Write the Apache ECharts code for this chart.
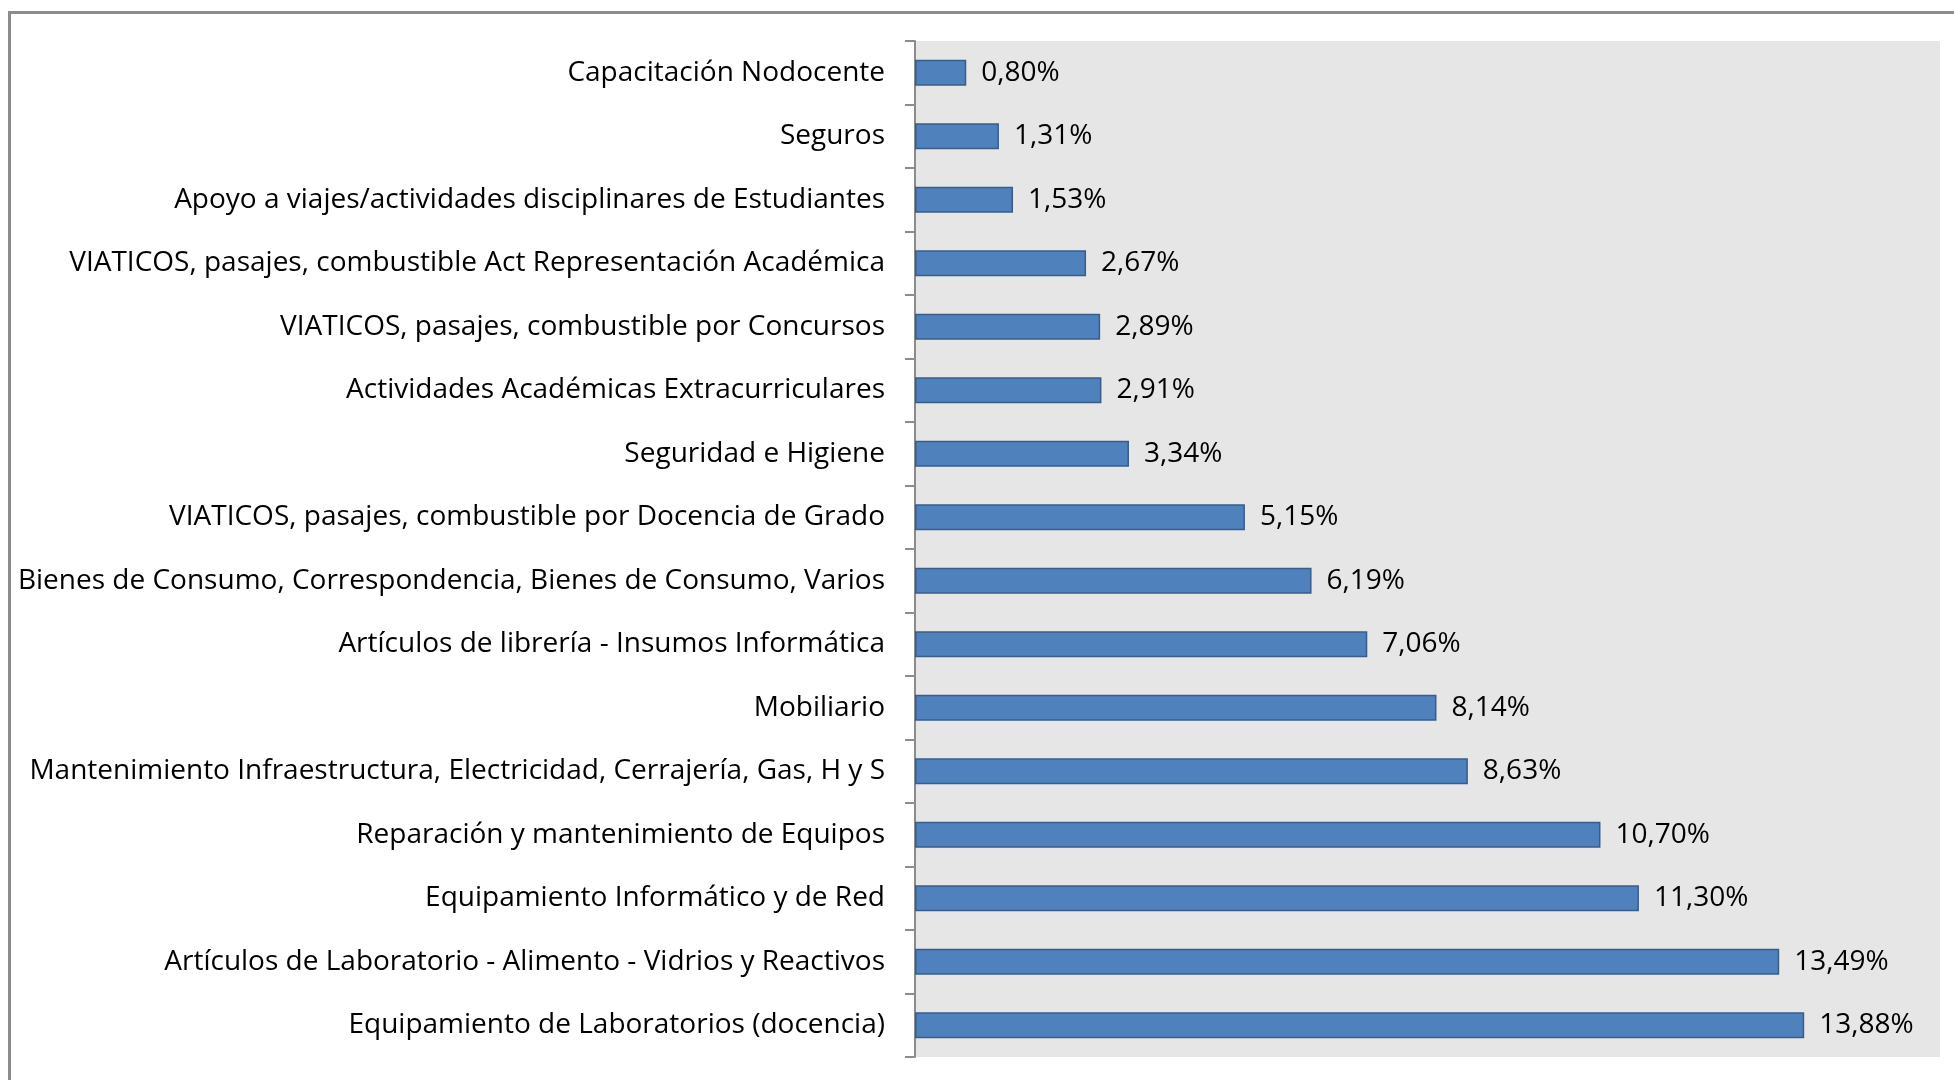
<!DOCTYPE html>
<html>
<head>
<meta charset="utf-8">
<script src="https://cdn.jsdelivr.net/npm/echarts@6/dist/echarts.min.js"></script>
<style>
  html, body { margin: 0; padding: 0; background: #fff; }
  #chart { width: 1954px; height: 1080px; }
  #frame { position: absolute; left: 8px; top: 11px; width: 1960px; height: 1090px;
           border-left: 3px solid #8c8c8c; border-top: 3px solid #8c8c8c; box-sizing: border-box; }
</style>
</head>
<body>
<div id="frame"></div>
<div id="chart" style="position:absolute;left:0;top:0;"></div>
<script>
// categorias de abajo hacia arriba (como las dibuja el eje)
var categorias = [
  'Equipamiento de Laboratorios (docencia)',
  'Artículos de Laboratorio - Alimento - Vidrios y Reactivos',
  'Equipamiento Informático y de Red',
  'Reparación y mantenimiento de Equipos',
  'Mantenimiento Infraestructura, Electricidad, Cerrajería, Gas, H y S',
  'Mobiliario',
  'Artículos de librería - Insumos Informática',
  'Bienes de Consumo, Correspondencia, Bienes de Consumo, Varios',
  'VIATICOS, pasajes, combustible por Docencia de Grado',
  'Seguridad e Higiene',
  'Actividades Académicas Extracurriculares',
  'VIATICOS, pasajes, combustible por Concursos',
  'VIATICOS, pasajes, combustible Act Representación Académica',
  'Apoyo a viajes/actividades disciplinares de Estudiantes',
  'Seguros',
  'Capacitación Nodocente'
];
var porcentajes = [13.88, 13.49, 11.30, 10.70, 8.63, 8.14, 7.06, 6.19, 5.15, 3.34, 2.91, 2.89, 2.67, 1.53, 1.31, 0.80];

var chart = echarts.init(document.getElementById('chart'));
var option = {
  animation: false,
  grid: {
    left: 915, top: 41, right: 14, bottom: 23,
    show: true, backgroundColor: '#e6e6e6', borderWidth: 0,
    containLabel: false
  },
  xAxis: {
    type: 'value', min: 0, max: 16, show: false
  },
  yAxis: {
    type: 'category',
    data: categorias,
    axisLine: { lineStyle: { color: '#8c8c8c', width: 2 } },
    axisTick: { show: true, length: 10, lineStyle: { color: '#8c8c8c', width: 2 } },
    axisLabel: {
      color: '#000', fontSize: 28, margin: 30, padding: [3, 0, 0, 0],
      fontFamily: 'Open Sans, sans-serif'
    }
  },
  series: [{
    type: 'bar',
    data: porcentajes,
    barCategoryGap: '59%',
    itemStyle: { color: '#4f81bd', borderColor: '#385d8a', borderWidth: 1.5 },
    label: {
      show: true, position: 'right', distance: 15,
      color: '#000', fontSize: 28, fontFamily: 'Open Sans, sans-serif',
      padding: [3, 0, 0, 0],
      formatter: function (p) { return p.value.toFixed(2).replace('.', ',') + '%'; }
    }
  }]
};
chart.setOption(option);
</script>
</body>
</html>
